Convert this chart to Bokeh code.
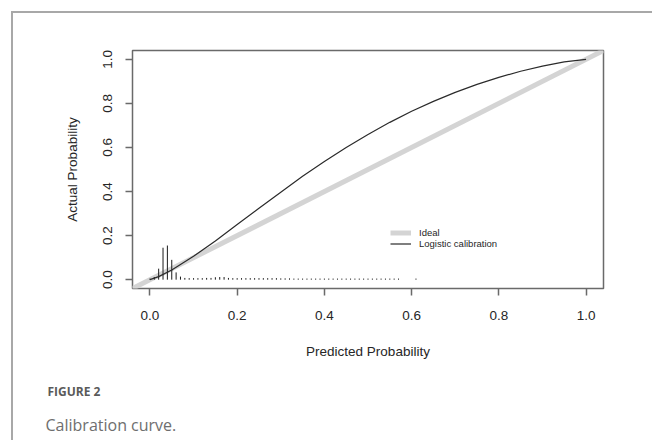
from bokeh.plotting import figure
from bokeh.models import (Range1d, FixedTicker, NumeralTickFormatter, Title,
                          Legend, LegendItem)
from bokeh.embed import file_html
from bokeh.resources import INLINE

# ---- data ----
ideal_x = [-0.05, 1.05]
ideal_y = [-0.05, 1.05]

curve_x = [0.0, 0.02, 0.05, 0.1, 0.15, 0.2, 0.25, 0.3, 0.35, 0.4, 0.45, 0.5,
           0.55, 0.6, 0.65, 0.7, 0.75, 0.8, 0.85, 0.9, 0.95, 1.0]
curve_y = [0.0, 0.014, 0.044, 0.106, 0.176, 0.25, 0.324, 0.397, 0.469, 0.536,
           0.600, 0.659, 0.714, 0.764, 0.809, 0.85, 0.886, 0.918, 0.946, 0.969,
           0.988, 1.0]

# histogram of predicted probabilities (spike heights)
hist_x = [0.00, 0.01, 0.02, 0.03, 0.04, 0.05, 0.06, 0.07,
          0.08, 0.09, 0.10, 0.11, 0.12, 0.13, 0.14, 0.15, 0.16, 0.17, 0.18,
          0.19, 0.20, 0.21, 0.22, 0.23, 0.24, 0.25, 0.26, 0.27, 0.28, 0.29,
          0.30, 0.31, 0.32, 0.33, 0.34, 0.35, 0.36, 0.37, 0.38, 0.39, 0.40,
          0.41, 0.42, 0.43, 0.44, 0.45, 0.46, 0.47, 0.48, 0.49, 0.50, 0.51,
          0.52, 0.53, 0.54, 0.55, 0.56, 0.57, 0.61]
hist_h = [0.005, 0.012, 0.05, 0.145, 0.155, 0.09, 0.033, 0.014,
          0.008, 0.007, 0.007, 0.007, 0.007, 0.008, 0.008, 0.011, 0.012, 0.012, 0.008,
          0.007, 0.007, 0.007, 0.007, 0.007, 0.007, 0.007, 0.007, 0.007, 0.007, 0.007,
          0.006, 0.006, 0.006, 0.005, 0.005, 0.005, 0.005, 0.005, 0.005, 0.005, 0.005,
          0.005, 0.005, 0.005, 0.005, 0.005, 0.005, 0.005, 0.005, 0.005, 0.005, 0.005,
          0.005, 0.005, 0.005, 0.005, 0.005, 0.005, 0.005]

ticks = [0.0, 0.2, 0.4, 0.6, 0.8, 1.0]

FONT = "Liberation Sans"
TXT = "#262626"
BOX = "#6a6a6a"

p = figure(width=641, height=429, output_backend="svg", toolbar_location=None,
           x_range=Range1d(-0.04, 1.04), y_range=Range1d(-0.04, 1.04),
           min_border_left=119, min_border_right=51,
           min_border_top=37, min_border_bottom=154)
# the panel frame (left and top rules) around the figure
p.styles = {"margin-left": "11px", "margin-top": "11px",
            "border-left": "2px solid #a8a8a8", "border-top": "2px solid #a8a8a8"}
p.grid.visible = False
p.outline_line_color = BOX
p.outline_line_width = 1.5
p.background_fill_color = "white"
p.border_fill_color = "white"

for ax in (p.xaxis[0], p.yaxis[0]):
    ax.ticker = FixedTicker(ticks=ticks)
    ax.formatter = NumeralTickFormatter(format="0.0")
    ax.axis_line_color = None
    ax.major_tick_line_color = BOX
    ax.major_tick_line_width = 1.5
    ax.major_tick_out = 7
    ax.major_tick_in = 0
    ax.minor_tick_line_color = None
    ax.major_label_text_font = FONT
    ax.major_label_text_font_size = "13.5px"
    ax.major_label_text_color = TXT
    ax.axis_label_text_font = FONT
    ax.axis_label_text_font_size = "13.5px"
    ax.axis_label_text_font_style = "normal"
    ax.axis_label_text_color = TXT

p.xaxis.axis_label = "Predicted Probability"
p.yaxis.axis_label = "Actual Probability"
p.yaxis.major_label_orientation = "vertical"
p.xaxis.major_label_standoff = 15
p.yaxis.major_label_standoff = 13
p.xaxis.axis_label_standoff = 21
p.yaxis.axis_label_standoff = 21

r_ideal = p.line(ideal_x, ideal_y, line_color="#d4d4d4", line_width=5)
p.segment(x0=hist_x, y0=[0.0] * len(hist_x), x1=hist_x, y1=hist_h,
          line_color="#1a1a1a", line_width=1)
r_curve = p.line(curve_x, curve_y, line_color="#2b2b2b", line_width=1.2)

legend = Legend(items=[LegendItem(label="Ideal", renderers=[r_ideal]),
                       LegendItem(label="Logistic calibration", renderers=[r_curve])],
                location=(258, 39.5), border_line_color=None,
                background_fill_alpha=0, padding=0, margin=0, spacing=0,
                glyph_width=21, glyph_height=11, label_height=11,
                label_standoff=8, label_text_font=FONT,
                label_text_font_size="9.5px", label_text_color=TXT)
p.add_layout(legend)

p.add_layout(Title(text="FIGURE 2", align="left", offset=-85, standoff=39,
                   text_font="Open Sans", text_font_size="12px",
                   text_font_style="bold", text_color="#5a5a5a"), "below")
p.add_layout(Title(text="Calibration curve.", align="left", offset=-87, standoff=-15,
                   text_font="Open Sans", text_font_size="16px",
                   text_font_style="normal", text_color="#6e6e6e"), "below")

open("out.html", "w").write(file_html(p, INLINE))
